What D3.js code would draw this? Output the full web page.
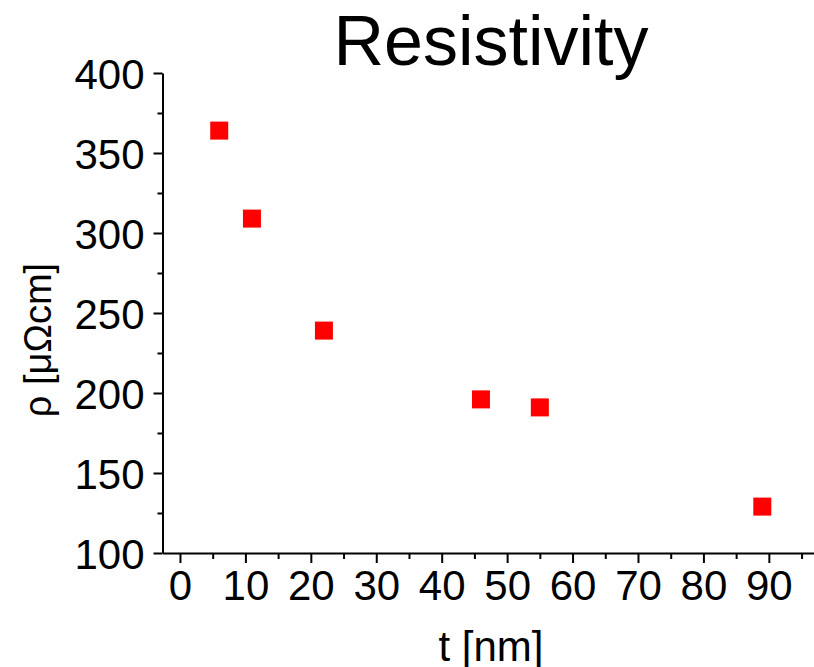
<!DOCTYPE html>
<html>
<head>
<meta charset="utf-8">
<script src="https://cdn.jsdelivr.net/npm/d3@7"></script>
<style>
  body { margin: 0; background: #fff; }
  svg { display: block; }
  .axis path, .axis line { stroke: #000; stroke-width: 2; }
  .axis text { font-family: "Liberation Sans", Arial, sans-serif; font-size: 42px; fill: #000; }
  .lbl { font-family: "Liberation Sans", Arial, sans-serif; fill: #000; }
</style>
</head>
<body>
<div id="chart"></div>
<script>
// data
var thickness = [6, 11, 22, 46, 55, 89];          // t [nm]
var resistivity = [364, 309, 239, 196, 191, 129]; // rho [uOhm cm]
var xTicks = [0, 10, 20, 30, 40, 50, 60, 70, 80, 90];
var yTicks = [100, 150, 200, 250, 300, 350, 400];

var width = 814, height = 667;
var plot = { left: 162.5, right: 814, top: 73, bottom: 553 };

var svg = d3.select("#chart").append("svg")
    .attr("width", width)
    .attr("height", height);

var x = d3.scaleLinear().domain([-2.67, 96.9]).range([plot.left, plot.right]);
var y = d3.scaleLinear().domain([100, 400]).range([plot.bottom, plot.top]);

// minor ticks first, so the major axis sits on top
var xMinor = d3.range(5, 100, 10);
var yMinor = d3.range(125, 400, 50);

svg.append("g")
    .attr("class", "axis")
    .attr("transform", "translate(0," + plot.bottom + ")")
    .call(d3.axisBottom(x).tickValues(xMinor).tickSize(6).tickFormat(""))
    .select(".domain").remove();

svg.append("g")
    .attr("class", "axis")
    .attr("transform", "translate(" + plot.left + ",0)")
    .call(d3.axisLeft(y).tickValues(yMinor).tickSize(5).tickFormat(""))
    .select(".domain").remove();

var xAxis = svg.append("g")
    .attr("class", "axis")
    .attr("transform", "translate(0," + plot.bottom + ")")
    .call(d3.axisBottom(x).tickValues(xTicks).tickSize(10).tickSizeOuter(0).tickPadding(7));

var yAxis = svg.append("g")
    .attr("class", "axis")
    .attr("transform", "translate(" + plot.left + ",0)")
    .call(d3.axisLeft(y).tickValues(yTicks).tickSize(9).tickSizeOuter(0).tickPadding(9));

yAxis.selectAll("text").attr("dy", "0.36em");

// data points: red squares
var sq = 18;
svg.append("g")
    .selectAll("rect")
    .data(thickness)
    .join("rect")
    .attr("x", function(d) { return x(d) - sq / 2; })
    .attr("y", function(d, i) { return y(resistivity[i]) - sq / 2; })
    .attr("width", sq)
    .attr("height", sq)
    .attr("fill", "#ff0000");

// title and axis labels
svg.append("text")
    .attr("class", "lbl")
    .attr("x", 491)
    .attr("y", 65)
    .attr("text-anchor", "middle")
    .style("font-size", "70px")
    .text("Resistivity");

svg.append("text")
    .attr("class", "lbl")
    .attr("x", 491)
    .attr("y", 661)
    .attr("text-anchor", "middle")
    .style("font-size", "42px")
    .text("t [nm]");

svg.append("text")
    .attr("class", "lbl")
    .attr("transform", "translate(51,340) rotate(-90)")
    .attr("text-anchor", "middle")
    .style("font-size", "38px")
    .text("ρ [μΩcm]");
</script>
</body>
</html>
